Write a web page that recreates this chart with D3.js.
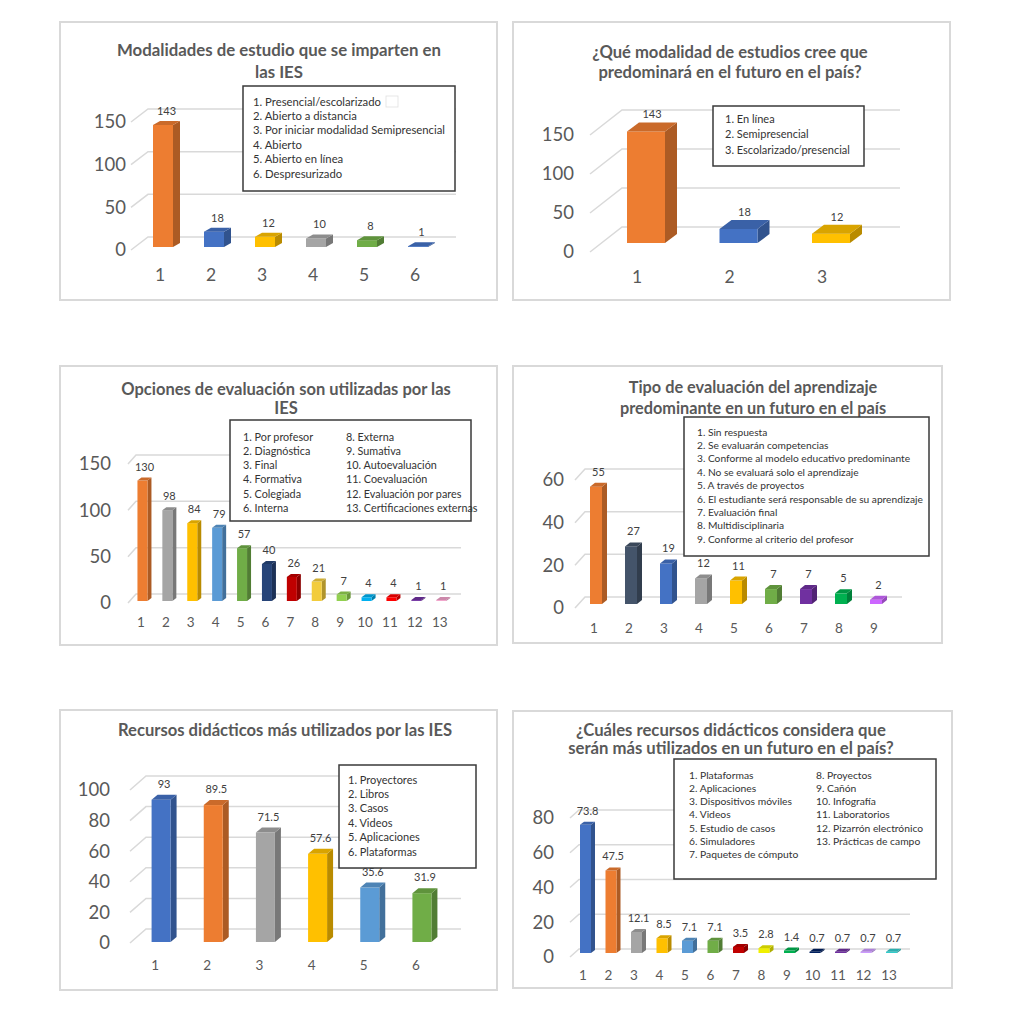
<!DOCTYPE html>
<html>
<head>
<meta charset="utf-8">
<script src="https://cdn.jsdelivr.net/npm/d3@7"></script>
<style>
  body { margin: 0; background: #ffffff; }
  svg text { font-family: Lato, "Open Sans", sans-serif; }
</style>
</head>
<body>
<div id="chart"></div>
<script>
/*
DATA
*/

// 1. Modalidades de estudio que se imparten en las IES
const modCats = ["1", "2", "3", "4", "5", "6"];
const modValues = [143, 18, 12, 10, 8, 1];
const modTicks = [0, 50, 100, 150];
const modLegend = ["1. Presencial/escolarizado", "2. Abierto a distancia", "3. Por iniciar modalidad Semipresencial",
    "4. Abierto", "5. Abierto en línea", "6. Despresurizado"];

// 2. Modalidad futura
const futModCats = ["1", "2", "3"];
const futModValues = [143, 18, 12];
const futModTicks = [0, 50, 100, 150];
const futModLegend = ["1. En línea", "2. Semipresencial", "3. Escolarizado/presencial"];

// 3. Opciones de evaluación
const evalCats = ["1", "2", "3", "4", "5", "6", "7", "8", "9", "10", "11", "12", "13"];
const evalValues = [130, 98, 84, 79, 57, 40, 26, 21, 7, 4, 4, 1, 1];
const evalTicks = [0, 50, 100, 150];
const evalLegendA = ["1. Por profesor", "2. Diagnóstica", "3. Final", "4. Formativa", "5. Colegiada", "6. Interna"];
const evalLegendB = ["8. Externa", "9. Sumativa", "10. Autoevaluación", "11. Coevaluación",
    "12. Evaluación por pares", "13. Certificaciones externas"];

// 4. Tipo de evaluación futura
const futEvalCats = ["1", "2", "3", "4", "5", "6", "7", "8", "9"];
const futEvalValues = [55, 27, 19, 12, 11, 7, 7, 5, 2];
const futEvalTicks = [0, 20, 40, 60];
const futEvalLegend = ["1. Sin respuesta", "2. Se evaluarán competencias", "3. Conforme al modelo educativo predominante",
    "4. No se evaluará solo el aprendizaje", "5. A través de proyectos",
    "6. El estudiante será responsable de su aprendizaje", "7. Evaluación final", "8. Multidisciplinaria",
    "9. Conforme al criterio del profesor"];

// 5. Recursos didácticos
const recCats = ["1", "2", "3", "4", "5", "6"];
const recValues = [93, 89.5, 71.5, 57.6, 35.6, 31.9];
const recTicks = [0, 20, 40, 60, 80, 100];
const recLegend = ["1. Proyectores", "2. Libros", "3. Casos", "4. Videos", "5. Aplicaciones", "6. Plataformas"];

// 6. Recursos futuros
const futRecCats = ["1", "2", "3", "4", "5", "6", "7", "8", "9", "10", "11", "12", "13"];
const futRecValues = [73.8, 47.5, 12.1, 8.5, 7.1, 7.1, 3.5, 2.8, 1.4, 0.7, 0.7, 0.7, 0.7];
const futRecTicks = [0, 20, 40, 60, 80];
const futRecLegendA = ["1. Plataformas", "2. Aplicaciones", "3. Dispositivos móviles", "4. Videos",
    "5. Estudio de casos", "6. Simuladores", "7. Paquetes de cómputo"];
const futRecLegendB = ["8. Proyectos", "9. Cañón", "10. Infografía", "11. Laboratorios",
    "12. Pizarrón electrónico", "13. Prácticas de campo"];

/*
PANEL LAYOUT + STYLE
*/

const panels = [
    {
        box: [60, 22, 497, 300],
        title: ["Modalidades de estudio que se imparten en", "las IES"], titleX: 279, titleY: [50, 72], titleSize: 16.8,
        cats: modCats, values: modValues, ticks: modTicks,
        colors: ["#ED7D31", "#4472C4", "#FFC000", "#A5A5A5", "#70AD47", "#4472C4"],
        axisX: 131, yBase: 250, yTop: 122, yLabelX: 126, tickSize: 18.5,
        floor: [17, -13], gridEnd: 456,
        band: [134.5, 440.5], xLabelY: 275, xLabelSize: 17.5,
        barW: 20, barShift: [3, -3], barDepth: [7, -4], labelGap: 6, valueSize: 11,
        legendBox: [243, 86, 455, 191], legendCols: [{x: 253, items: modLegend}],
        legendY: 105.5, legendStep: 14.4, legendSize: 11.3
    },
    {
        box: [513, 22, 950, 300],
        title: ["¿Qué modalidad de estudios cree que", "predominará en el futuro en el país?"], titleX: 730, titleY: [52, 72], titleSize: 16.6,
        cats: futModCats, values: futModValues, ticks: futModTicks,
        colors: ["#ED7D31", "#4472C4", "#FFC000"],
        axisX: 590, yBase: 252, yTop: 135, yLabelX: 574, tickSize: 18.5,
        floor: [32, -25], gridEnd: 900,
        band: [590.75, 868.25], xLabelY: 277, xLabelSize: 17.5,
        barW: 38, barShift: [9, -9], barDepth: [12, -9], labelGap: 4, valueSize: 11,
        legendBox: [713, 106, 864, 166], legendCols: [{x: 725, items: futModLegend}],
        legendY: 122.5, legendStep: 15.5, legendSize: 11
    },
    {
        box: [60, 366, 497, 645],
        title: ["Opciones de evaluación son utilizadas por las", "IES"], titleX: 286, titleY: [389, 408], titleSize: 16.5,
        cats: evalCats, values: evalValues, ticks: evalTicks,
        colors: ["#ED7D31", "#A5A5A5", "#FFC000", "#5B9BD5", "#70AD47", "#264478", "#C00000",
            "#F2CC3D", "#92D050", "#00B0F0", "#FF0000", "#7030A0", "#F0A0C8"],
        axisX: 128, yBase: 603, yTop: 464, yLabelX: 111, tickSize: 18.5,
        floor: [8, -9], gridEnd: 461,
        band: [128.5, 452.2], xLabelY: 622, xLabelSize: 13.5,
        barW: 10, barShift: [1.5, -2], barDepth: [4, -3], labelGap: 7, valueSize: 11,
        legendBox: [230, 420, 471, 521], legendCols: [{x: 243, items: evalLegendA}, {x: 346, items: evalLegendB}],
        legendY: 440.5, legendStep: 14.3, legendSize: 10.8
    },
    {
        box: [513, 366, 942, 643],
        title: ["Tipo de evaluación del aprendizaje", "predominante en un futuro en el país"], titleX: 753, titleY: [387, 408], titleSize: 16.3,
        cats: futEvalCats, values: futEvalValues, ticks: futEvalTicks,
        colors: ["#ED7D31", "#44546A", "#4472C4", "#A5A5A5", "#FFC000", "#70AD47", "#7030A0", "#00B050", "#CC66FF"],
        axisX: 575, yBase: 608, yTop: 480, yLabelX: 564, tickSize: 18.5,
        floor: [10, -11], gridEnd: 902,
        band: [576.5, 891.5], xLabelY: 628, xLabelSize: 13.5,
        barW: 12, barShift: [2, -4], barDepth: [5, -4], labelGap: 7, valueSize: 11,
        legendBox: [684, 417, 929, 556], legendCols: [{x: 697, items: futEvalLegend}],
        legendY: 435.5, legendStep: 13.4, legendSize: 10.2
    },
    {
        box: [60, 710, 497, 990],
        title: ["Recursos didácticos más utilizados por las IES"], titleX: 285, titleY: [730], titleSize: 16.6,
        cats: recCats, values: recValues, ticks: recTicks,
        colors: ["#4472C4", "#ED7D31", "#A5A5A5", "#FFC000", "#5B9BD5", "#70AD47"],
        axisX: 130, yBase: 943, yTop: 790, yLabelX: 110, tickSize: 18.5,
        floor: [16, -14], gridEnd: 461,
        band: [129, 442], xLabelY: 965, xLabelSize: 13.5,
        barW: 19, barShift: [6, -1], barDepth: [6, -5], labelGap: 7, valueSize: 11,
        legendBox: [339, 765, 476, 868], legendCols: [{x: 348, items: recLegend}],
        legendY: 783.5, legendStep: 14.4, legendSize: 11
    },
    {
        box: [513, 711, 952, 988],
        title: ["¿Cuáles recursos didácticos considera que", "serán más utilizados en un futuro en el país?"], titleX: 731, titleY: [730, 748], titleSize: 16.7,
        cats: futRecCats, values: futRecValues, ticks: futRecTicks,
        colors: ["#4472C4", "#ED7D31", "#A5A5A5", "#FFC000", "#5B9BD5", "#70AD47", "#C00000",
            "#F0F000", "#00B050", "#002060", "#7030A0", "#CC99FF", "#33CCCC"],
        axisX: 570, yBase: 957, yTop: 818, yLabelX: 554, tickSize: 18.5,
        floor: [9, -8], gridEnd: 910,
        band: [570.25, 901.75], xLabelY: 975, xLabelSize: 13.5,
        barW: 11, barShift: [2.5, -4], barDepth: [4, -3], labelGap: 7, valueSize: 11,
        legendBox: [674, 759, 936, 879], legendCols: [{x: 689, items: futRecLegendA}, {x: 816, items: futRecLegendB}],
        legendY: 778.5, legendStep: 13.3, legendSize: 10.3
    }
];

/*
CREATE CANVAS
*/

const width = 1024;
const height = 1024;

const svg = d3.select("#chart")
    .append("svg")
    .attr("width", width)
    .attr("height", height);

panels.forEach(function(p, i){ drawPanel(p, i); });

function drawPanel(p, idx){

    const g = svg.append("g").attr("class", "panel panel" + idx);

    // panel frame
    g.append("rect")
        .attr("x", p.box[0])
        .attr("y", p.box[1])
        .attr("width", p.box[2] - p.box[0])
        .attr("height", p.box[3] - p.box[1])
        .attr("fill", "#ffffff")
        .attr("stroke", "#d9d9d9")
        .attr("stroke-width", 2);

    // title
    p.title.forEach(function(t, k){
        g.append("text")
            .attr("x", p.titleX)
            .attr("y", p.titleY[k])
            .attr("dy", "0.35em")
            .attr("text-anchor", "middle")
            .attr("fill", "#595959")
            .style("font-weight", "bold")
            .style("font-size", p.titleSize + "px")
            .text(t);
    });

    /*
    SCALES
    */

    const yScale = d3.scaleLinear()
        .domain([0, d3.max(p.ticks)])
        .range([p.yBase, p.yTop]);

    const xScale = d3.scaleBand()
        .domain(p.cats)
        .range(p.band);

    const dx = p.floor[0];
    const dy = p.floor[1];

    // perspective gridlines (diagonal on the side wall, then flat at the back)
    g.selectAll(".grid")
        .data(p.ticks)
        .enter()
        .append("path")
        .attr("class", "grid")
        .attr("d", function(t){
            const y = yScale(t);
            return `M${p.axisX},${y} L${p.axisX + dx},${y + dy} L${p.gridEnd},${y + dy}`;
        })
        .attr("fill", "none")
        .attr("stroke", "#d9d9d9")
        .attr("stroke-width", 1.5);

    /*
    AXES
    */

    const yAxis = g.append("g")
        .attr("transform", `translate(${p.axisX},0)`)
        .call(d3.axisLeft(yScale).tickValues(p.ticks).tickSize(0).tickPadding(p.axisX - p.yLabelX));
    yAxis.select(".domain").remove();
    yAxis.selectAll("text")
        .attr("fill", "#595959")
        .style("font-size", p.tickSize + "px")
        .style("font-family", "Lato, sans-serif");

    const xAxis = g.append("g")
        .attr("transform", `translate(0,${p.xLabelY})`)
        .call(d3.axisBottom(xScale).tickSize(0));
    xAxis.select(".domain").remove();
    xAxis.selectAll("text")
        .attr("y", 0)
        .attr("dy", "0.35em")
        .attr("fill", "#595959")
        .style("font-size", p.xLabelSize + "px")
        .style("font-family", "Lato, sans-serif");

    /*
    3D BARS
    */

    const bw = p.barW;
    const bdx = p.barDepth[0];
    const bdy = p.barDepth[1];

    const bars = g.selectAll(".bar")
        .data(p.values.map(function(v, k){ return {cat: p.cats[k], value: v, color: p.colors[k]}; }))
        .enter()
        .append("g")
        .attr("class", "bar");

    function geom(d){
        const cx = xScale(d.cat) + xScale.bandwidth() / 2 + p.barShift[0];
        const l = cx - bw / 2;
        const r = cx + bw / 2;
        const base = yScale(0) + p.barShift[1];
        const top = yScale(d.value) + p.barShift[1];
        return {cx: cx, l: l, r: r, base: base, top: top};
    }

    // right side face
    bars.append("path")
        .attr("d", function(d){
            const q = geom(d);
            return `M${q.r},${q.top} L${q.r + bdx},${q.top + bdy} L${q.r + bdx},${q.base + bdy} L${q.r},${q.base} Z`;
        })
        .attr("fill", function(d){ return d3.color(d.color).darker(0.9); });

    // front face
    bars.append("rect")
        .attr("x", function(d){ return geom(d).l; })
        .attr("y", function(d){ return geom(d).top; })
        .attr("width", bw)
        .attr("height", function(d){ const q = geom(d); return Math.max(0, q.base - q.top); })
        .attr("fill", function(d){ return d.color; });

    // top face
    bars.append("path")
        .attr("d", function(d){
            const q = geom(d);
            return `M${q.l},${q.top} L${q.r},${q.top} L${q.r + bdx},${q.top + bdy} L${q.l + bdx},${q.top + bdy} Z`;
        })
        .attr("fill", function(d){ return d3.color(d.color).darker(0.45); });

    // value labels
    bars.append("text")
        .attr("x", function(d){ return geom(d).cx + bdx / 2; })
        .attr("y", function(d){ return geom(d).top + bdy - p.labelGap; })
        .attr("text-anchor", "middle")
        .attr("fill", "#404040")
        .style("font-size", p.valueSize + "px")
        .text(function(d){ return String(d.value); });

    /*
    LEGEND BOX
    */

    const lb = p.legendBox;
    g.append("rect")
        .attr("x", lb[0])
        .attr("y", lb[1])
        .attr("width", lb[2] - lb[0])
        .attr("height", lb[3] - lb[1])
        .attr("fill", "#ffffff")
        .attr("stroke", "#3a3a3a")
        .attr("stroke-width", 1.5);

    p.legendCols.forEach(function(col){
        col.items.forEach(function(item, k){
            g.append("text")
                .attr("x", col.x)
                .attr("y", p.legendY + k * p.legendStep)
                .attr("fill", "#333333")
                .style("font-size", p.legendSize + "px")
                .text(item);
        });
    });
}

// small empty box left inside the first legend
svg.select(".panel0").append("rect")
    .attr("x", 386)
    .attr("y", 96)
    .attr("width", 12)
    .attr("height", 11)
    .attr("fill", "#ffffff")
    .attr("stroke", "#e0e0e0")
    .attr("stroke-width", 0.8);
</script>
</body>
</html>
